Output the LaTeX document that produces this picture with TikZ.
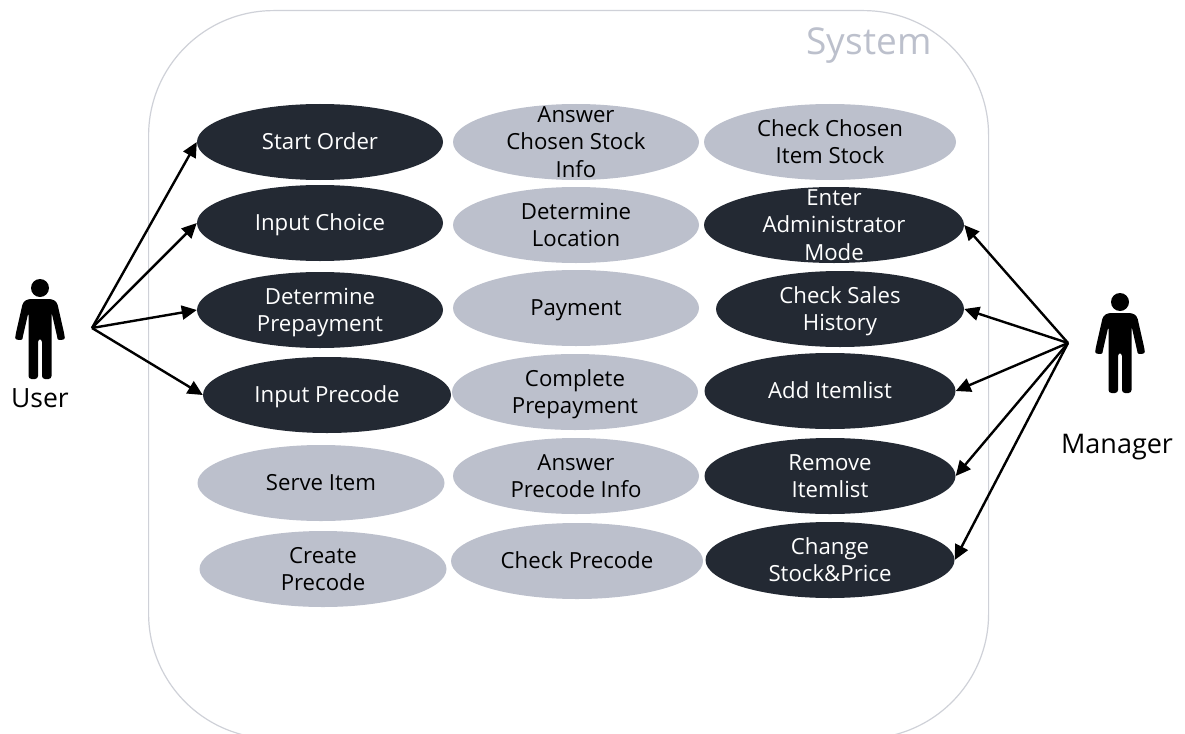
\documentclass[tikz,border=0pt]{standalone}
\usepackage{fontspec}
\setmainfont{Open Sans}
\usetikzlibrary{shapes.geometric,arrows.meta}
\definecolor{darkuc}{HTML}{232933}
\definecolor{lightuc}{HTML}{BCC0CC}
\definecolor{sysline}{HTML}{CFD1D8}
\newcommand{\ucstrut}{\rule[-6pt]{0pt}{27.5pt}}
\newcommand{\uct}[1]{\ucstrut #1\ucstrut}
\tikzset{
  x=1pt,y=-1pt,
  uc/.style={ellipse,minimum width=#1,minimum height=76pt,inner xsep=-10pt,inner ysep=-30pt,align=center,font=\fontsize{22.2}{27.5}\selectfont},
  ducase/.style={uc=#1,fill=darkuc,text=white},
  lucase/.style={uc=#1,fill=lightuc,text=black},
  assoc/.style={draw=black,line width=2.4pt,-{Triangle[length=15pt,width=14pt]}},
}
\newcommand{\actorfig}[2]{%
  \begin{scope}[shift={(#1,#2)}]
    \fill[black] (0,-41) circle (9);
    \fill[black,rounded corners=3pt] (-12,-30) -- (12,-30) -- (17,-27) -- (24.5,6) .. controls (25,11) and (18,12) .. (17,7) -- (11.5,-17) -- (11.5,50) -- (2,50) -- (2,10) -- (-2,10) -- (-2,50) -- (-11.5,50) -- (-11.5,-17) -- (-17,7) .. controls (-18,12) and (-25,11) .. (-24.5,6) -- (-17,-27) -- cycle;
  \end{scope}}
\begin{document}
\begin{tikzpicture}
\useasboundingbox (0,0) rectangle (1185,733);
\clip (0,0) rectangle (1185,733);
\fill[white] (0,0) rectangle (1185,733);
\node[draw=sysline,line width=1.2pt,rectangle,rounded corners=125pt,minimum width=840pt,minimum height=728pt,inner sep=0pt,anchor=north west] (sys) at (148,10) {};
\node[anchor=center,font=\fontsize{37}{44}\selectfont,text=lightuc] (systitle) at (869,46) {System};

\node[ducase=246pt] (startorder) at (320,142) {\uct{Start Order}};
\node[ducase=246pt] (inputchoice) at (320,223) {\uct{Input Choice}};
\node[ducase=246pt] (detprepay) at (320,310) {\uct{Determine\\Prepayment}};
\node[ducase=248pt] (inputprecode) at (327,395) {\uct{Input Precode}};
\node[lucase=247pt] (serveitem) at (321,483) {\uct{Serve Item}};
\node[lucase=247pt] (createprecode) at (323,569) {\uct{Create\\Precode}};

\node[lucase=246pt] (answerstock) at (576,142) {\uct{Answer\\Chosen Stock\\Info}};
\node[lucase=246pt] (detlocation) at (576,225) {\uct{Determine\\Location}};
\node[lucase=246pt] (payment) at (576,308) {\uct{Payment}};
\node[lucase=246pt] (completeprepay) at (575,392) {\uct{Complete\\Prepayment}};
\node[lucase=246pt] (answerprecode) at (576,476) {\uct{Answer\\Precode Info}};
\node[lucase=252pt] (checkprecode) at (577,561) {\uct{Check Precode}};

\node[lucase=252pt] (checkstock) at (830,142) {\uct{Check Chosen\\Item Stock}};
\node[ducase=260pt] (enteradmin) at (834,225) {\uct{Enter\\Administrator\\Mode}};
\node[ducase=248pt] (checksales) at (840,309) {\uct{Check Sales\\History}};
\node[ducase=251pt] (additem) at (830,391) {\uct{Add Itemlist}};
\node[ducase=251pt] (removeitem) at (830,476) {\uct{Remove\\Itemlist}};
\node[ducase=249pt] (changestock) at (830,560) {\uct{Change\\Stock\&Price}};

\actorfig{40}{329}
\actorfig{1120}{343}
\node[font=\fontsize{26.5}{32}\selectfont,text=black] (userlabel) at (40,398) {User};
\node[font=\fontsize{27}{32}\selectfont,text=black] (managerlabel) at (1117,447) {Manager};

\coordinate (userhub) at (92,328);
\coordinate (mgrhub) at (1068,343);
\foreach \t in {startorder,inputchoice,detprepay,inputprecode}
  \draw[assoc] (userhub) -- (\t.west);
\foreach \t in {enteradmin,checksales,additem,removeitem,changestock}
  \draw[assoc] (mgrhub) -- (\t.east);
\end{tikzpicture}
\end{document}
